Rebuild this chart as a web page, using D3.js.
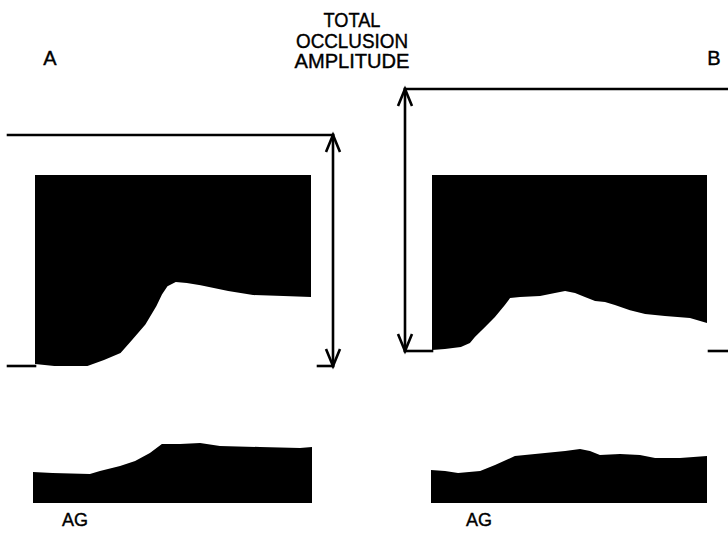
<!DOCTYPE html>
<html>
<head>
<meta charset="utf-8">
<script src="https://cdn.jsdelivr.net/npm/d3@7"></script>
<style>
  body { margin: 0; background: #fff; }
  svg text { font-family: "Liberation Sans", Arial, sans-serif; fill: #000; stroke: #000; stroke-width: 0.4; }
</style>
</head>
<body>
<div id="chart"></div>
<script>
// time axis of each record, arbitrary units 0..100
let tA = [0, 7, 19, 25, 31, 35, 40, 44, 46, 48, 51, 55, 60, 70, 79, 90, 100];
// lower edge of the recording envelope, % of total occlusion amplitude
let envA = [0.9, 0, 0, 2.6, 5.6, 11, 18, 26, 31, 34.5, 36.4, 35.9, 35, 32.5, 30.7, 30.3, 29.9];
let occTopA = 82.7;

let tB = [0, 4.7, 10.5, 13.8, 15.6, 19.3, 22.9, 26.5, 28.4, 32, 39.3, 44.7, 48.4, 52, 55.6, 59.3, 62.9, 66.5, 72, 77.5, 84.7, 93.8, 100];
let envB = [0.4, 0.8, 1.5, 3.1, 5.3, 9.2, 13, 17.6, 20.2, 20.6, 21, 22.1, 22.9, 22.1, 20.6, 19.1, 18.7, 17.6, 15.6, 14.1, 13.4, 12.6, 10.7];
let occTopB = 67.2;

// AG traces
let tAgA = [0, 7, 20.4, 24, 31.2, 36.6, 41.9, 46.2, 52.7, 59.9, 67, 81.4, 95.7, 100];
let agA = [31, 30, 29, 32, 37, 42, 50, 59, 59, 60, 57, 56, 55, 56];
let tAgB = [0, 5.1, 9.8, 17.8, 23.2, 30.4, 41.3, 48.6, 54, 57.6, 61.2, 68.5, 75.7, 81.2, 90.2, 100];
let agB = [33, 32, 30, 32, 38, 47, 50, 52, 54, 52, 48, 49, 48, 45, 45, 47];

let titleLines = ["TOTAL", "OCCLUSION", "AMPLITUDE"];
let panelLabels = ["A", "B"];
let traceLabel = "AG";

const width = 728, height = 533;
const svg = d3.select("#chart").append("svg")
    .attr("width", width)
    .attr("height", height);

// scales
const xA = d3.scaleLinear().domain([0, 100]).range([35, 311]);
const yA = d3.scaleLinear().domain([0, 100]).range([366, 135]);
const xB = d3.scaleLinear().domain([0, 100]).range([432, 707]);
const yB = d3.scaleLinear().domain([0, 100]).range([351, 89]);
const xAgA = d3.scaleLinear().domain([0, 100]).range([33, 312]);
const xAgB = d3.scaleLinear().domain([0, 100]).range([431, 707]);
const yAg = d3.scaleLinear().domain([0, 60]).range([503, 443]);

function drawEnvelope(t, v, top, x, y) {
    let pts = t.map((d, i) => ({ t: d, v: v[i] }));
    let area = d3.area()
        .x(d => x(d.t))
        .y0(y(top))
        .y1(d => y(d.v))
        .curve(d3.curveLinear);
    svg.append("path").datum(pts).attr("d", area).attr("fill", "#000");
}

function drawAg(t, v, x) {
    let pts = t.map((d, i) => ({ t: d, v: v[i] }));
    let area = d3.area()
        .x(d => x(d.t))
        .y0(yAg(0))
        .y1(d => yAg(d.v));
    svg.append("path").datum(pts).attr("d", area).attr("fill", "#000");
}

function line(x1, y1, x2, y2) {
    svg.append("line")
        .attr("x1", x1).attr("y1", y1).attr("x2", x2).attr("y2", y2)
        .attr("stroke", "#000").attr("stroke-width", 2.6)
        .attr("stroke-linecap", "square");
}

function arrowHead(x, y, dir) {
    // dir = -1 pointing up, 1 pointing down
    svg.append("path")
        .attr("d", `M${x - 7},${y - dir * 17} L${x},${y} L${x + 7},${y - dir * 17}`)
        .attr("fill", "none").attr("stroke", "#000").attr("stroke-width", 2.6);
}

function doubleArrow(x, yTop, yBot) {
    line(x, yTop, x, yBot);
    arrowHead(x, yTop, -1);
    arrowHead(x, yBot, 1);
}

// panel A
drawEnvelope(tA, envA, occTopA, xA, yA);
line(8, yA(100), 333, yA(100));
line(8, yA(0), xA(0), yA(0));
line(318, yA(0), 333, yA(0));
doubleArrow(333, yA(100), yA(0));

// panel B
drawEnvelope(tB, envB, occTopB, xB, yB);
line(405, yB(100), 728, yB(100));
line(405, yB(0), xB(0), yB(0));
line(xB(100) + 2, yB(0), 728, yB(0));
doubleArrow(405, yB(100), yB(0));

// AG traces
drawAg(tAgA, agA, xAgA);
drawAg(tAgB, agB, xAgB);

// labels
let titleWidths = [57, 112, 115];
svg.selectAll(".title")
    .data(titleLines)
    .enter().append("text")
    .attr("class", "title")
    .attr("x", 352)
    .attr("y", (d, i) => 27 + i * 20.5)
    .attr("text-anchor", "middle")
    .attr("font-size", 20)
    .attr("textLength", (d, i) => titleWidths[i])
    .attr("lengthAdjust", "spacingAndGlyphs")
    .text(d => d);

svg.selectAll(".panel")
    .data(panelLabels)
    .enter().append("text")
    .attr("class", "panel")
    .attr("x", (d, i) => i ? 714 : 50)
    .attr("y", 65)
    .attr("text-anchor", "middle")
    .attr("font-size", 20)
    .text(d => d);

svg.selectAll(".ag")
    .data([0, 1])
    .enter().append("text")
    .attr("class", "ag")
    .attr("x", d => d ? 466 : 62)
    .attr("y", 526)
    .attr("font-size", 18)
    .text(traceLabel);
</script>
</body>
</html>
